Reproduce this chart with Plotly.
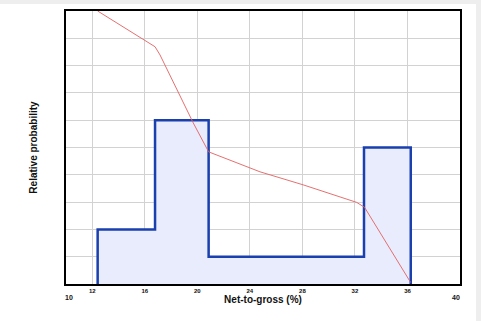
import plotly.graph_objects as go

# Histogram (relative probability) bins
bin_edges = [12.41, 16.78, 20.86, 32.69, 36.25]
bin_heights = [2, 6, 1, 5]

# Exceedance curve (red line)
curve_x = [12.41, 16.78, 17.16, 19.69, 20.86, 24.77, 28.07, 32.13, 32.73, 36.25]
curve_y = [10.0, 8.69, 8.39, 5.9, 4.84, 4.11, 3.63, 2.99, 2.81, 0.05]

# Axis ticks
x_tick_vals = [12, 16, 20, 24, 28, 32, 36]
x_tick_text = ["12", "16", "20", "24", "28", "32", "36"]
x_range = [10, 40]
y_range = [0, 10]

# Build the step outline from the bin data
step_x = [bin_edges[0]] + bin_edges[:-1] + [bin_edges[-1], bin_edges[-1]]
step_y = [0] + bin_heights + [bin_heights[-1], 0]

FONT = "Liberation Sans, Arial, sans-serif"

fig = go.Figure()
fig.add_trace(go.Scatter(
    x=step_x, y=step_y, mode="lines", line_shape="hv",
    line=dict(color="#1a3fae", width=2.5),
    fill="tozeroy", fillcolor="#e8ecfc", hoverinfo="skip", showlegend=False,
))
fig.add_trace(go.Scatter(
    x=curve_x, y=curve_y, mode="lines",
    line=dict(color="#e26060", width=0.9),
    hoverinfo="skip", showlegend=False, cliponaxis=True,
))

fig.update_layout(
    width=481, height=321,
    margin=dict(l=66, r=21, t=9, b=37),
    paper_bgcolor="white", plot_bgcolor="white",
    font=dict(family=FONT, color="#111111"),
    xaxis=dict(
        range=x_range, tickvals=x_tick_vals, ticktext=x_tick_text,
        tickfont=dict(size=6, weight="bold", family=FONT),
        showgrid=True, gridcolor="#d2d2d2", gridwidth=1,
        showline=True, linecolor="black", linewidth=1.5, mirror=True,
        zeroline=False, ticks="", fixedrange=True,
        title=dict(text="<b>Net-to-gross (%)</b>", font=dict(size=10, family=FONT), standoff=3),
    ),
    yaxis=dict(
        range=y_range, dtick=1, showticklabels=False,
        showgrid=True, gridcolor="#d2d2d2", gridwidth=1,
        showline=True, linecolor="black", linewidth=1.5, mirror=True,
        zeroline=False, ticks="", fixedrange=True,
        title=dict(text="<b>Relative probability</b>", font=dict(size=10, family=FONT), standoff=25),
    ),
    annotations=[
        dict(x=10, y=0, xref="x", yref="paper", text="<b>10</b>", showarrow=False,
             yshift=-19, xshift=3, font=dict(size=7, family=FONT)),
        dict(x=40, y=0, xref="x", yref="paper", text="<b>40</b>", showarrow=False,
             yshift=-19, xshift=-4, font=dict(size=7, family=FONT)),
    ],
    shapes=[
        dict(type="rect", xref="paper", yref="paper", x0=(476 - 66) / 394, x1=1.1,
             y0=-0.2, y1=1.1, fillcolor="#eeeeee", line=dict(width=0), layer="above"),
        dict(type="rect", xref="paper", yref="paper", x0=-0.3, x1=1.1,
             y0=1 + 7 / 275, y1=1.1, fillcolor="#eeeeee", line=dict(width=0), layer="above"),
    ],
)

fig.write_html("out.html")
